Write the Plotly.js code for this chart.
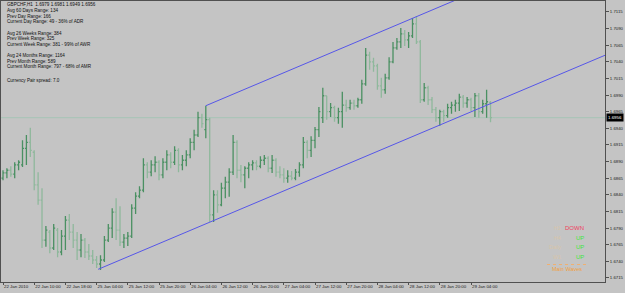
<!DOCTYPE html>
<html><head><meta charset="utf-8">
<script src="https://cdn.plot.ly/plotly-3.0.1.min.js"></script>
<style>html,body{margin:0;padding:0;background:#c4c4c4;overflow:hidden}#chart{width:625px;height:293px}</style>
</head><body><div id="chart"></div>
<script>
// ---- data (GBPCHF H1) ----
const openP  = [1.6865,1.6873,1.6877,1.6871,1.6885,1.6885,1.6910,1.6919,1.6904,1.6855,
1.6832,1.6772,1.6784,1.6760,1.6787,1.6754,1.6778,1.6802,1.6784,1.6772,
1.6757,1.6772,1.6754,1.6748,1.6742,1.6736,1.6742,1.6772,1.6790,1.6814,
1.6787,1.6769,1.6775,1.6778,1.6820,1.6838,1.6847,1.6885,1.6874,1.6885,
1.6889,1.6870,1.6889,1.6900,1.6889,1.6907,1.6885,1.6892,1.6900,1.6919,
1.6930,1.6956,1.6938,1.6953,1.6810,1.6840,1.6825,1.6850,1.6859,1.6874,
1.6919,1.6877,1.6870,1.6880,1.6885,1.6888,1.6883,1.6892,1.6895,1.6880,
1.6892,1.6874,1.6870,1.6865,1.6868,1.6865,1.6874,1.6885,1.6919,1.6907,
1.6922,1.6938,1.6956,1.6989,1.6965,1.6971,1.6956,1.6965,1.6975,1.6971,
1.6978,1.6974,1.6983,1.7007,1.7050,1.7040,1.7034,1.7004,1.6998,1.7016,
1.7040,1.7061,1.7070,1.7082,1.7073,1.7079,1.7097,1.7070,1.6983,1.7001,
1.6983,1.6968,1.6956,1.6965,1.6959,1.6971,1.6975,1.6978,1.6987,1.6978,
1.6983,1.6971,1.6989,1.6965,1.6977,1.6979];
const highP  = [1.6877,1.6880,1.6883,1.6889,1.6892,1.6922,1.6930,1.6941,1.6907,1.6874,
1.6850,1.6793,1.6787,1.6796,1.6790,1.6787,1.6808,1.6811,1.6796,1.6784,
1.6781,1.6775,1.6766,1.6757,1.6748,1.6749,1.6778,1.6796,1.6820,1.6835,
1.6823,1.6781,1.6784,1.6826,1.6844,1.6853,1.6895,1.6889,1.6892,1.6898,
1.6892,1.6895,1.6907,1.6904,1.6913,1.6910,1.6900,1.6907,1.6925,1.6938,
1.6965,1.6962,1.6974,1.6956,1.6847,1.6847,1.6858,1.6867,1.6880,1.6930,
1.6922,1.6885,1.6883,1.6889,1.6892,1.6892,1.6898,1.6900,1.6898,1.6900,
1.6895,1.6883,1.6880,1.6877,1.6876,1.6879,1.6889,1.6927,1.6922,1.6928,
1.6942,1.6972,1.7001,1.6989,1.6978,1.6974,1.6971,1.6995,1.6983,1.6983,
1.6983,1.6986,1.7013,1.7061,1.7055,1.7046,1.7037,1.7016,1.7022,1.7047,
1.7070,1.7076,1.7091,1.7088,1.7085,1.7106,1.7109,1.7073,1.7008,1.7004,
1.6987,1.6972,1.6968,1.6968,1.6977,1.6980,1.6983,1.6992,1.6990,1.6987,
1.6986,1.6993,1.6993,1.6983,1.6998,1.6981];
const lowP   = [1.6862,1.6865,1.6867,1.6865,1.6877,1.6882,1.6885,1.6897,1.6847,1.6825,
1.6760,1.6762,1.6752,1.6757,1.6746,1.6749,1.6757,1.6772,1.6760,1.6742,
1.6746,1.6745,1.6742,1.6736,1.6730,1.6727,1.6739,1.6769,1.6775,1.6772,
1.6763,1.6760,1.6763,1.6775,1.6811,1.6835,1.6844,1.6865,1.6868,1.6874,
1.6862,1.6865,1.6877,1.6880,1.6885,1.6874,1.6877,1.6883,1.6895,1.6907,
1.6927,1.6941,1.6925,1.6799,1.6799,1.6813,1.6823,1.6835,1.6837,1.6870,
1.6865,1.6859,1.6850,1.6865,1.6877,1.6877,1.6880,1.6885,1.6874,1.6873,
1.6867,1.6865,1.6858,1.6858,1.6862,1.6862,1.6867,1.6880,1.6895,1.6897,
1.6910,1.6927,1.6948,1.6953,1.6957,1.6950,1.6947,1.6941,1.6965,1.6968,
1.6968,1.6971,1.6977,1.7004,1.7028,1.7025,1.6998,1.6986,1.6992,1.7013,
1.7038,1.7058,1.7061,1.7064,1.7061,1.7076,1.7067,1.6978,1.6980,1.6975,
1.6963,1.6950,1.6944,1.6950,1.6956,1.6962,1.6965,1.6966,1.6971,1.6971,
1.6966,1.6957,1.6956,1.6962,1.6956,1.6949];
const closeP = [1.6873,1.6877,1.6871,1.6885,1.6889,1.6910,1.6919,1.6907,1.6855,1.6832,
1.6772,1.6787,1.6760,1.6790,1.6754,1.6778,1.6802,1.6784,1.6772,1.6757,
1.6772,1.6754,1.6748,1.6742,1.6736,1.6742,1.6772,1.6790,1.6814,1.6787,
1.6769,1.6775,1.6778,1.6820,1.6838,1.6847,1.6885,1.6874,1.6885,1.6889,
1.6870,1.6889,1.6900,1.6889,1.6907,1.6885,1.6892,1.6900,1.6919,1.6930,
1.6956,1.6947,1.6953,1.6810,1.6840,1.6825,1.6850,1.6859,1.6874,1.6919,
1.6877,1.6870,1.6880,1.6885,1.6888,1.6883,1.6892,1.6895,1.6880,1.6892,
1.6874,1.6870,1.6865,1.6868,1.6865,1.6874,1.6885,1.6919,1.6907,1.6922,
1.6938,1.6965,1.6989,1.6965,1.6971,1.6956,1.6965,1.6975,1.6971,1.6978,
1.6974,1.6983,1.7007,1.7050,1.7040,1.7034,1.7004,1.6998,1.7016,1.7040,
1.7061,1.7070,1.7082,1.7073,1.7079,1.7097,1.7070,1.6983,1.7001,1.6983,
1.6968,1.6956,1.6965,1.6959,1.6971,1.6975,1.6978,1.6987,1.6978,1.6983,
1.6971,1.6989,1.6965,1.6977,1.6980,1.6956];
const xTickIdx = [0,8,16,24,32,40,48,56,64,72,80,88,96,104,112,120];
const xTickLabels = ["22 Jan 2010","22 Jan 10:00","22 Jan 18:00","25 Jan 04:00","25 Jan 12:00","25 Jan 20:00",
"26 Jan 04:00","26 Jan 12:00","26 Jan 20:00","27 Jan 04:00","27 Jan 12:00","27 Jan 20:00",
"28 Jan 04:00","28 Jan 12:00","28 Jan 20:00","29 Jan 04:00"];
const lowerChannelX = [24.4, 154.4];
const lowerChannelY = [1.6728, 1.7050];
const upperChannelX = [52, 154.4];
const upperChannelY = [1.6974, 1.7228];
const bidPrice = 1.6956;
const headerLine = "GBPCHF,H1  1.6979 1.6981 1.6949 1.6956";
const infoLines = ["Avg 60 Days Range: 134","Prev Day Range: 166","Current Day Range: 49 - 36% of ADR",
"Avg 26 Weeks Range: 384","Prev Week Range: 325","Current Week Range: 381 - 99% of AWR",
"Avg 24 Months Range: 1164","Prev Month Range: 589","Current Month Range: 797 - 68% of AMR",
"Currency Pair spread: 7.0"];
const waveLabels = ["H1","H4","Daily","W1"];
const waveStates = ["DOWN","UP","UP","UP"];
const wavesTitle = "Main Waves";

// ---- drawing ----
const W = 625, H = 293, L = 1, R = 605, T = 1, B = 282;
const px = x => (x - L) / (R - L);
const py = y => 1 - (y - T) / (B - T);
const idx = openP.map((_, i) => i);
const FONT = "Liberation Sans, Arial, sans-serif";

const traces = [
  {type:'ohlc', x: idx, open: openP, high: highP, low: lowP, close: closeP,
   increasing:{line:{color:'#4a9062', width:1.3}}, decreasing:{line:{color:'#8fb89c', width:1.3}},
   tickwidth:0.38, hoverinfo:'skip', showlegend:false},
  {type:'scatter', mode:'lines', x: lowerChannelX, y: lowerChannelY, line:{color:'#5656e8', width:1}, hoverinfo:'skip', showlegend:false},
  {type:'scatter', mode:'lines', x: upperChannelX, y: upperChannelY, line:{color:'#5656e8', width:1}, hoverinfo:'skip', showlegend:false}
];

const ann = [];
const infoFont = {family:FONT, size:4.6, color:'#101010'};
ann.push({xref:'paper', yref:'paper', x:px(5), y:py(5), xanchor:'left', yanchor:'middle', text:headerLine, showarrow:false, font:infoFont});
const infoY = [10.7,16.2,21.8,33.3,38.8,44.3,55.7,61.2,66.7,80.7];
infoLines.forEach((t,i)=>ann.push({xref:'paper', yref:'paper', x:px(5), y:py(infoY[i]), xanchor:'left', yanchor:'middle', text:t, showarrow:false, font:infoFont}));
const waveY = [227.5, 237.5, 247, 256.5];
waveLabels.forEach((t,i)=>{
  ann.push({xref:'paper', yref:'paper', x:px(563), y:py(waveY[i]), xanchor:'right', yanchor:'middle', text:t, showarrow:false, font:{family:FONT, size:5.5, color:'#d8c4aa'}});
  ann.push({xref:'paper', yref:'paper', x:px(586), y:py(waveY[i]), xanchor:'right', yanchor:'middle', text:waveStates[i], showarrow:false, font:{family:FONT, size:6, color: waveStates[i]==='DOWN' ? '#f0405e' : '#3ee63e'}});
});
ann.push({xref:'paper', yref:'paper', x:px(567), y:py(268.5), xanchor:'center', yanchor:'middle', text:wavesTitle, showarrow:false, font:{family:FONT, size:5.5, color:'#f0a040'}});
ann.push({xref:'paper', yref:'y', x:1, y:bidPrice, xanchor:'left', yanchor:'middle', xshift:1, text:bidPrice.toFixed(4), showarrow:false, bgcolor:'#000000', borderpad:1, font:{family:FONT, size:4.4, color:'#ffffff'}});

const layout = {
  width:W, height:H, margin:{l:L, r:W-R, t:T, b:H-B, pad:0},
  paper_bgcolor:'#c4c4c4', plot_bgcolor:'#c4c4c4', showlegend:false, dragmode:false,
  font:{family:FONT, size:4.4, color:'#202020'},
  xaxis:{type:'linear', range:[(L-3)/3.9, (R-3)/3.9], rangeslider:{visible:false}, showgrid:false, zeroline:false,
    showline:true, mirror:true, linecolor:'#505050', linewidth:1,
    tickmode:'array', tickvals:xTickIdx, ticktext:xTickLabels, ticks:'outside', ticklen:2, tickcolor:'#505050',
    tickangle:0, automargin:false,
    ticklabelposition:'outside right', tickfont:{family:FONT, size:4.4, color:'#202020'}, fixedrange:true},
  yaxis:{side:'right', range:[1.67089, 1.71315], showgrid:false, zeroline:false,
    showline:true, mirror:true, linecolor:'#505050', linewidth:1, automargin:false,
    tickmode:'linear', tick0:1.6715, dtick:0.0025, tickformat:'.4f', ticks:'outside', ticklen:3, tickcolor:'#505050',
    tickfont:{family:FONT, size:4.3, color:'#202020'}, fixedrange:true},
  shapes:[
    {type:'line', xref:'paper', yref:'y', x0:0, x1:1, y0:bidPrice, y1:bidPrice, line:{color:'#a6c4b6', width:1}, layer:'below'},
    {type:'line', xref:'paper', yref:'paper', x0:px(547), x1:px(587), y0:py(264.5), y1:py(264.5), line:{color:'#f0b070', width:1, dash:'dot'}}
  ],
  annotations: ann
};
Plotly.newPlot('chart', traces, layout, {staticPlot:true, displayModeBar:false});
</script>
</body></html>
